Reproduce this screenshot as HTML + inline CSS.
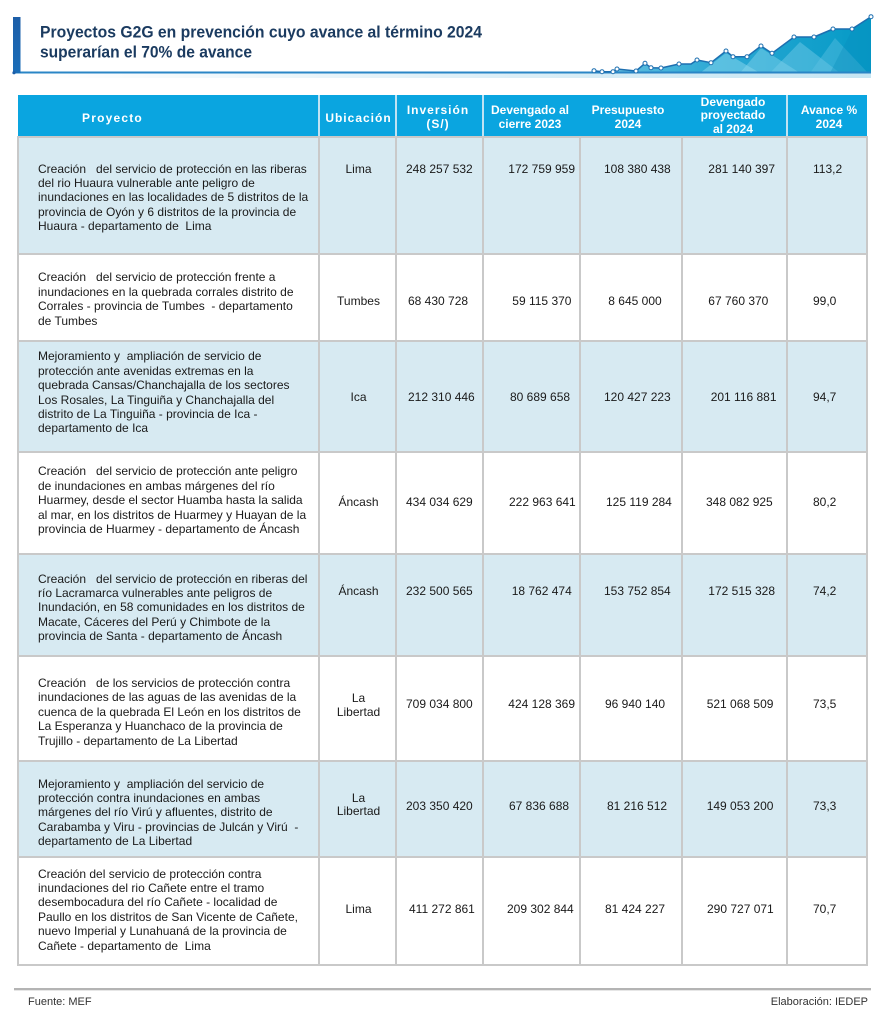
<!DOCTYPE html>
<html><head><meta charset="utf-8">
<style>
*{margin:0;padding:0;box-sizing:border-box}
html,body{width:885px;height:1024px;background:#fff;overflow:hidden}
body{position:relative;font-family:"Liberation Sans",Arial,sans-serif;color:#1a1a1a}
.a{position:absolute}
.t{position:absolute;left:38px;font-size:12px;line-height:14.4px;white-space:pre;color:#1a1a1a}
.n{position:absolute;font-size:12px;line-height:14.4px;white-space:pre;color:#1a1a1a}
.u{position:absolute;left:319px;width:79px;text-align:center;font-size:12px;line-height:14px;white-space:pre;color:#1a1a1a}
.h{position:absolute;font-size:12px;font-weight:bold;color:#fff;line-height:13.5px;text-align:center;white-space:pre}
.hl{background:#c9c9c9}
.sh{background:#d7eaf2}
</style></head><body>

<svg class="a" style="left:0;top:0" width="885" height="90" viewBox="0 0 885 90">
  <defs>
    <linearGradient id="band" x1="0" x2="1" y1="0" y2="0">
      <stop offset="0" stop-color="#ffffff"/>
      <stop offset="0.5" stop-color="#dff0f8"/>
      <stop offset="1" stop-color="#c6e6f3"/>
    </linearGradient>
    <linearGradient id="bar" x1="0" x2="0" y1="0" y2="1">
      <stop offset="0" stop-color="#1d5ea8"/>
      <stop offset="1" stop-color="#1a6db8"/>
    </linearGradient>
    <linearGradient id="area" x1="0" x2="1" y1="0" y2="0">
      <stop offset="0" stop-color="#6cc3e2"/>
      <stop offset="0.45" stop-color="#2aa8d4"/>
      <stop offset="1" stop-color="#049ac6"/>
    </linearGradient>
  </defs>
  <rect x="20" y="73.5" width="851" height="4.5" fill="url(#band)"/>
  <polygon fill="url(#area)" points="594,70.7 602,71.7 613,71.7 617,69 636,71 645,63.3 651,67.7 661,68 679,64 691,64 697,60 711,62.7 726,51 733,56.7 747,56.7 761,46 772,53.3 794,37 814,37 833,29 852,29 871,16.7 871,73 594,73"/>
  <polygon fill="rgba(140,215,238,0.5)" points="700,73 726,53 760,73"/>
  <polygon fill="rgba(140,215,238,0.45)" points="740,73 761,48 800,73"/>
  <polygon fill="rgba(120,205,232,0.45)" points="770,73 800,42 840,73"/>
  <polygon fill="rgba(100,195,228,0.4)" points="810,73 835,38 868,73"/>
  <polygon fill="rgba(10,140,190,0.35)" points="830,73 852,30 871,17 871,73"/>
  <rect x="13" y="71.5" width="858" height="2" fill="#2a86c6"/>
  <polyline fill="none" stroke="#1d6fb0" stroke-width="1.5" stroke-linejoin="round" points="594,70.7 602,71.7 613,71.7 617,69 636,71 645,63.3 651,67.7 661,68 679,64 691,64 697,60 711,62.7 726,51 733,56.7 747,56.7 761,46 772,53.3 794,37 814,37 833,29 852,29 871,16.7"/>
  <g fill="#fff" stroke="#1d6fb0" stroke-width="1">
    <circle cx="594" cy="70.7" r="2"/><circle cx="602" cy="71.7" r="2"/><circle cx="613" cy="71.7" r="2"/><circle cx="617" cy="69" r="2"/><circle cx="636" cy="71" r="2"/><circle cx="645" cy="63.3" r="2"/><circle cx="651" cy="67.7" r="2"/><circle cx="661" cy="68" r="2"/><circle cx="679" cy="64" r="2"/><circle cx="697" cy="60" r="2"/><circle cx="711" cy="62.7" r="2"/><circle cx="726" cy="51" r="2"/><circle cx="733" cy="56.7" r="2"/><circle cx="747" cy="56.7" r="2"/><circle cx="761" cy="46" r="2"/><circle cx="772" cy="53.3" r="2"/><circle cx="794" cy="37" r="2"/><circle cx="814" cy="37" r="2"/><circle cx="833" cy="29" r="2"/><circle cx="852" cy="29" r="2"/><circle cx="871" cy="16.7" r="2"/>
  </g>
  <rect x="13" y="17" width="7.5" height="56" fill="url(#bar)"/>
  <circle cx="14" cy="72.7" r="1.6" fill="#1d5ea8"/>
  <text x="40" y="37.5" font-family="Liberation Sans, Arial, sans-serif" font-weight="bold" font-size="17" fill="#1b3b60" textLength="442" lengthAdjust="spacingAndGlyphs">Proyectos G2G en prevención cuyo avance al término 2024</text>
  <text x="40" y="57.5" font-family="Liberation Sans, Arial, sans-serif" font-weight="bold" font-size="17" fill="#1b3b60" textLength="212" lengthAdjust="spacingAndGlyphs">superarían el 70% de avance</text>
</svg>

<!-- header -->
<div class="a" style="left:18px;top:95px;width:849px;height:42px;background:#0aa5e0"></div>
<div class="a" style="left:318px;top:95px;width:2px;height:42px;background:#bfe3f3"></div>
<div class="a" style="left:395px;top:95px;width:2px;height:42px;background:#bfe3f3"></div>
<div class="a" style="left:482px;top:95px;width:2px;height:42px;background:#bfe3f3"></div>
<div class="a" style="left:786px;top:95px;width:2px;height:42px;background:#bfe3f3"></div>

<div class="h" style="left:82px;top:111.5px;text-align:left;letter-spacing:1.2px">Proyecto</div>
<div class="h" style="left:319px;width:79px;top:111.5px;letter-spacing:1px">Ubicación</div>
<div class="h" style="left:397px;width:82px;top:104px;letter-spacing:1px">Inversión
(S/)</div>
<div class="h" style="left:480px;width:100px;top:104px">Devengado al
cierre 2023</div>
<div class="h" style="left:578px;width:100px;top:104px">Presupuesto
2024</div>
<div class="h" style="left:683px;width:100px;top:96px;line-height:13.4px">Devengado
proyectado
al 2024</div>
<div class="h" style="left:789px;width:80px;top:104px">Avance %
2024</div>

<!-- row backgrounds -->
<div class="a sh" style="left:18px;top:137px;width:849px;height:116px"></div>
<div class="a sh" style="left:18px;top:341px;width:849px;height:110.5px"></div>
<div class="a sh" style="left:18px;top:554px;width:849px;height:102px"></div>
<div class="a sh" style="left:18px;top:761px;width:849px;height:96px"></div>

<!-- horizontal lines -->
<div class="a hl" style="left:18px;top:136px;width:849px;height:2px"></div>
<div class="a hl" style="left:18px;top:252.5px;width:849px;height:2px"></div>
<div class="a hl" style="left:18px;top:340px;width:849px;height:2px"></div>
<div class="a hl" style="left:18px;top:450.5px;width:849px;height:2px"></div>
<div class="a hl" style="left:18px;top:553px;width:849px;height:2px"></div>
<div class="a hl" style="left:18px;top:655px;width:849px;height:2px"></div>
<div class="a hl" style="left:18px;top:760px;width:849px;height:2px"></div>
<div class="a hl" style="left:18px;top:856px;width:849px;height:2px"></div>
<div class="a hl" style="left:18px;top:964px;width:849px;height:2px"></div>
<!-- vertical lines -->
<div class="a hl" style="left:17px;top:136px;width:2px;height:830px"></div>
<div class="a hl" style="left:318px;top:136px;width:2px;height:830px"></div>
<div class="a hl" style="left:395px;top:136px;width:2px;height:830px"></div>
<div class="a hl" style="left:482px;top:136px;width:2px;height:830px"></div>
<div class="a hl" style="left:579px;top:136px;width:2px;height:830px"></div>
<div class="a hl" style="left:681px;top:136px;width:2px;height:830px"></div>
<div class="a hl" style="left:786px;top:136px;width:2px;height:830px"></div>
<div class="a hl" style="left:865.5px;top:136px;width:2px;height:830px"></div>

<!-- project texts -->
<div class="t" style="top:161.6px">Creación   del servicio de protección en las riberas
del rio Huaura vulnerable ante peligro de
inundaciones en las localidades de 5 distritos de la
provincia de Oyón y 6 distritos de la provincia de
Huaura - departamento de  Lima</div>
<div class="t" style="top:270.4px">Creación   del servicio de protección frente a
inundaciones en la quebrada corrales distrito de
Corrales - provincia de Tumbes  - departamento
de Tumbes</div>
<div class="t" style="top:349.3px">Mejoramiento y  ampliación de servicio de
protección ante avenidas extremas en la
quebrada Cansas/Chanchajalla de los sectores
Los Rosales, La Tinguiña y Chanchajalla del
distrito de La Tinguiña - provincia de Ica -
departamento de Ica</div>
<div class="t" style="top:464.3px">Creación   del servicio de protección ante peligro
de inundaciones en ambas márgenes del río
Huarmey, desde el sector Huamba hasta la salida
al mar, en los distritos de Huarmey y Huayan de la
provincia de Huarmey - departamento de Áncash</div>
<div class="t" style="top:571.6px">Creación   del servicio de protección en riberas del
río Lacramarca vulnerables ante peligros de
Inundación, en 58 comunidades en los distritos de
Macate, Cáceres del Perú y Chimbote de la
provincia de Santa - departamento de Áncash</div>
<div class="t" style="top:675.9px">Creación   de los servicios de protección contra
inundaciones de las aguas de las avenidas de la
cuenca de la quebrada El León en los distritos de
La Esperanza y Huanchaco de la provincia de
Trujillo - departamento de La Libertad</div>
<div class="t" style="top:776.6px">Mejoramiento y  ampliación del servicio de
protección contra inundaciones en ambas
márgenes del río Virú y afluentes, distrito de
Carabamba y Viru - provincias de Julcán y Virú  -
departamento de La Libertad</div>
<div class="t" style="top:866.6px">Creación del servicio de protección contra
inundaciones del rio Cañete entre el tramo
desembocadura del río Cañete - localidad de
Paullo en los distritos de San Vicente de Cañete,
nuevo Imperial y Lunahuaná de la provincia de
Cañete - departamento de  Lima</div>

<!-- ubicación -->
<div class="u" style="top:161.6px;line-height:14.4px">Lima</div>
<div class="u" style="top:293.6px;line-height:14.4px">Tumbes</div>
<div class="u" style="top:389.9px;line-height:14.4px">Ica</div>
<div class="u" style="top:495.3px;line-height:14.4px">Áncash</div>
<div class="u" style="top:583.6px;line-height:14.4px">Áncash</div>
<div class="u" style="top:690.5px">La
Libertad</div>
<div class="u" style="top:791.5px;line-height:13.8px">La
Libertad</div>
<div class="u" style="top:901.6px;line-height:14.4px">Lima</div>

<!-- row 1 -->
<div class="n" style="left:406px;top:161.6px">248 257 532</div>
<div class="n" style="left:508.3px;top:161.6px">172 759 959</div>
<div class="n" style="left:604px;top:161.6px">108 380 438</div>
<div class="n" style="left:708.3px;top:161.6px">281 140 397</div>
<div class="n" style="left:813px;top:161.6px">113,2</div>
<!-- row 2 -->
<div class="n" style="left:408px;top:293.6px">68 430 728</div>
<div class="n" style="left:512.3px;top:293.6px">59 115 370</div>
<div class="n" style="left:608.3px;top:293.6px">8 645 000</div>
<div class="n" style="left:708.3px;top:293.6px">67 760 370</div>
<div class="n" style="left:813px;top:293.6px">99,0</div>
<!-- row 3 -->
<div class="n" style="left:408px;top:389.9px">212 310 446</div>
<div class="n" style="left:510px;top:389.9px">80 689 658</div>
<div class="n" style="left:604px;top:389.9px">120 427 223</div>
<div class="n" style="left:710.7px;top:389.9px">201 116 881</div>
<div class="n" style="left:813px;top:389.9px">94,7</div>
<!-- row 4 -->
<div class="n" style="left:406px;top:495.3px">434 034 629</div>
<div class="n" style="left:509px;top:495.3px">222 963 641</div>
<div class="n" style="left:606px;top:495.3px">125 119 284</div>
<div class="n" style="left:706px;top:495.3px">348 082 925</div>
<div class="n" style="left:813px;top:495.3px">80,2</div>
<!-- row 5 -->
<div class="n" style="left:406px;top:583.6px">232 500 565</div>
<div class="n" style="left:511.7px;top:583.6px">18 762 474</div>
<div class="n" style="left:604px;top:583.6px">153 752 854</div>
<div class="n" style="left:708.3px;top:583.6px">172 515 328</div>
<div class="n" style="left:813px;top:583.6px">74,2</div>
<!-- row 6 -->
<div class="n" style="left:406px;top:696.9px">709 034 800</div>
<div class="n" style="left:508.3px;top:696.9px">424 128 369</div>
<div class="n" style="left:605px;top:696.9px">96 940 140</div>
<div class="n" style="left:706.7px;top:696.9px">521 068 509</div>
<div class="n" style="left:813px;top:696.9px">73,5</div>
<!-- row 7 -->
<div class="n" style="left:406px;top:799.3px">203 350 420</div>
<div class="n" style="left:509px;top:799.3px">67 836 688</div>
<div class="n" style="left:607px;top:799.3px">81 216 512</div>
<div class="n" style="left:706.7px;top:799.3px">149 053 200</div>
<div class="n" style="left:813px;top:799.3px">73,3</div>
<!-- row 8 -->
<div class="n" style="left:409px;top:901.6px">411 272 861</div>
<div class="n" style="left:507px;top:901.6px">209 302 844</div>
<div class="n" style="left:605px;top:901.6px">81 424 227</div>
<div class="n" style="left:707px;top:901.6px">290 727 071</div>
<div class="n" style="left:813px;top:901.6px">70,7</div>

<!-- footer -->
<div class="a" style="left:14px;top:988px;width:857px;height:1.5px;background:#b4b4b4"></div>
<div class="a" style="left:14px;top:989.5px;width:857px;height:1px;background:#e6e6e6"></div>
<div class="a" style="left:28px;top:994.5px;font-size:11px;line-height:14px;color:#333;white-space:pre">Fuente: MEF</div>
<div class="a" style="left:700px;width:168px;top:994.5px;font-size:11px;line-height:14px;color:#333;text-align:right;white-space:pre">Elaboración: IEDEP</div>

</body></html>
